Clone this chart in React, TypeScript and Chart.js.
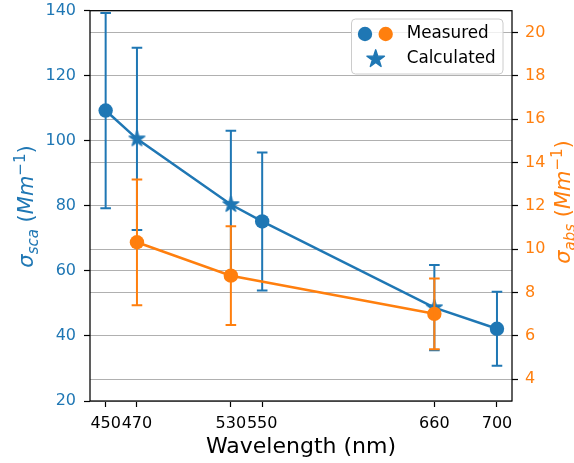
import React, { useEffect, useRef } from "react";
import { Chart, registerables } from "chart.js";

Chart.register(...registerables);

const BLUE = "#1f77b4";
const ORANGE = "#ff7f0e";
const FONT = '"DejaVu Sans"';

// Scattering coefficient (left axis)
const SCA_MEASURED_WL = [450, 550, 700];
const SCA_MEASURED = [109.3, 75.2, 42.2];
const SCA_MEASURED_ERR = [30.0, 21.2, 11.4];
const SCA_CALC_WL = [470, 530, 660];
const SCA_CALC = [100.6, 80.4, 48.7];
const SCA_CALC_ERR = [28.0, 22.7, 13.1];

// Absorption coefficient (right axis)
const ABS_WL = [470, 530, 660];
const ABS = [10.32, 8.78, 7.02];
const ABS_ERR = [2.9, 2.28, 1.63];

const X_TICKS = [450, 470, 530, 550, 660, 700];
const LEFT_TICKS = [20, 40, 60, 80, 100, 120, 140];
const RIGHT_TICKS = [4, 6, 8, 10, 12, 14, 16, 18, 20];

type Seg = { t: string; italic?: boolean; size: number; dy?: number };

function starPath(g: CanvasRenderingContext2D, cx: number, cy: number, R: number) {
  const r = R * 0.381966;
  g.beginPath();
  for (let i = 0; i < 10; i++) {
    const a = -Math.PI / 2 + (i * Math.PI) / 5;
    const rr = i % 2 === 0 ? R : r;
    const px = cx + rr * Math.cos(a);
    const py = cy + rr * Math.sin(a);
    if (i === 0) g.moveTo(px, py);
    else g.lineTo(px, py);
  }
  g.closePath();
}

function fillStar(g: CanvasRenderingContext2D, cx: number, cy: number, R: number, color: string) {
  starPath(g, cx, cy, R);
  g.fillStyle = color;
  g.fill();
  g.strokeStyle = color;
  g.lineWidth = 1.4;
  g.lineJoin = "round";
  g.stroke();
}

function makeStar(R: number, color: string) {
  const size = Math.ceil(R * 2) + 4;
  const c = document.createElement("canvas");
  c.width = size;
  c.height = size;
  const g = c.getContext("2d")!;
  fillStar(g, size / 2, size / 2, R, color);
  return c;
}

function drawSegs(ctx: CanvasRenderingContext2D, segs: Seg[], cx: number, baseY: number) {
  let total = 0;
  const widths = segs.map((s) => {
    ctx.font = `${s.italic ? "italic " : ""}${s.size}px ${FONT}`;
    const w = ctx.measureText(s.t).width;
    total += w;
    return w;
  });
  let x = cx - total / 2;
  ctx.textAlign = "left";
  ctx.textBaseline = "alphabetic";
  segs.forEach((s, i) => {
    ctx.font = `${s.italic ? "italic " : ""}${s.size}px ${FONT}`;
    ctx.fillText(s.t, x, baseY + (s.dy || 0));
    x += widths[i];
  });
}

const toPts = (xs: number[], ys: number[]) => xs.map((x, i) => ({ x, y: ys[i] }));

export default function App() {
  const ref = useRef<HTMLCanvasElement>(null);

  useEffect(() => {
    const canvas = ref.current!;
    const starImg = makeStar(8.2, BLUE);

    const scaLine = [...toPts(SCA_MEASURED_WL, SCA_MEASURED), ...toPts(SCA_CALC_WL, SCA_CALC)].sort(
      (a, b) => a.x - b.x
    );

    const errorBars = {
      id: "errorBars",
      afterDatasetDraw(chart: any, args: any) {
        const ds = chart.data.datasets[args.index];
        if (!ds.errors) return;
        const ctx = chart.ctx;
        const xs = chart.scales.x;
        const ys = chart.scales[ds.yAxisID];
        ctx.save();
        ctx.strokeStyle = ds.errColor;
        ctx.lineWidth = 2;
        ds.data.forEach((p: any, i: number) => {
          const e = ds.errors[i];
          const x = xs.getPixelForValue(p.x);
          const y1 = ys.getPixelForValue(p.y + e);
          const y2 = ys.getPixelForValue(p.y - e);
          ctx.beginPath();
          ctx.moveTo(x, y1);
          ctx.lineTo(x, y2);
          ctx.moveTo(x - 5.3, y1);
          ctx.lineTo(x + 5.3, y1);
          ctx.moveTo(x - 5.3, y2);
          ctx.lineTo(x + 5.3, y2);
          ctx.stroke();
        });
        ctx.restore();
      },
    };

    const decorations = {
      id: "decorations",
      afterDraw(chart: any) {
        const ctx = chart.ctx as CanvasRenderingContext2D;
        const a = chart.chartArea;
        ctx.save();
        // frame
        ctx.strokeStyle = "#000";
        ctx.lineWidth = 1.25;
        ctx.strokeRect(a.left, a.top, a.right - a.left, a.bottom - a.top);

        // x title
        ctx.fillStyle = "#000";
        ctx.font = `22px ${FONT}`;
        ctx.textAlign = "center";
        ctx.textBaseline = "alphabetic";
        ctx.fillText("Wavelength (nm)", (a.left + a.right) / 2, 453);

        // left title
        ctx.save();
        ctx.translate(33, 206.5);
        ctx.rotate(-Math.PI / 2);
        ctx.fillStyle = BLUE;
        drawSegs(
          ctx,
          [
            { t: "σ", italic: true, size: 21 },
            { t: "sca", italic: true, size: 15, dy: 4.5 },
            { t: " (", size: 21 },
            { t: "Mm", italic: true, size: 21 },
            { t: "−1", size: 15, dy: -8.5 },
            { t: ")", size: 21 },
          ],
          0,
          0
        );
        ctx.restore();

        // right title
        ctx.save();
        ctx.translate(570, 202);
        ctx.rotate(-Math.PI / 2);
        ctx.fillStyle = ORANGE;
        drawSegs(
          ctx,
          [
            { t: "σ", italic: true, size: 21 },
            { t: "abs", italic: true, size: 15, dy: 4.5 },
            { t: " (", size: 21 },
            { t: "Mm", italic: true, size: 21 },
            { t: "−1", size: 15, dy: -8.5 },
            { t: ")", size: 21 },
          ],
          0,
          0
        );
        ctx.restore();

        // legend
        const lx = 351.5,
          ly = 19,
          lw = 151.5,
          lh = 55;
        ctx.beginPath();
        if ((ctx as any).roundRect) (ctx as any).roundRect(lx, ly, lw, lh, 4);
        else ctx.rect(lx, ly, lw, lh);
        ctx.fillStyle = "rgba(255,255,255,0.8)";
        ctx.fill();
        ctx.strokeStyle = "#cccccc";
        ctx.lineWidth = 1;
        ctx.stroke();

        ctx.fillStyle = BLUE;
        ctx.beginPath();
        ctx.arc(365, 34, 7.2, 0, Math.PI * 2);
        ctx.fill();
        ctx.fillStyle = ORANGE;
        ctx.beginPath();
        ctx.arc(385.7, 34, 7.2, 0, Math.PI * 2);
        ctx.fill();
        fillStar(ctx, 375.7, 59, 9.2, BLUE);

        ctx.fillStyle = "#000";
        ctx.font = `16.8px ${FONT}`;
        ctx.textAlign = "left";
        ctx.textBaseline = "middle";
        ctx.fillText("Measured", 406.7, 34);
        ctx.fillText("Calculated", 406.7, 58.5);
        ctx.restore();
      },
    };

    const tickFont = { family: FONT, size: 16 };

    const chart = new Chart(canvas, {
      type: "line",
      data: {
        datasets: [
          {
            label: "sca line",
            data: scaLine,
            yAxisID: "ySca",
            borderColor: BLUE,
            borderWidth: 2.5,
            pointRadius: 0,
            tension: 0,
            order: 4,
          },
          {
            label: "Measured sca",
            data: toPts(SCA_MEASURED_WL, SCA_MEASURED),
            yAxisID: "ySca",
            showLine: false,
            pointRadius: 7.2,
            pointBackgroundColor: BLUE,
            pointBorderColor: BLUE,
            pointBorderWidth: 0,
            order: 3,
            errors: SCA_MEASURED_ERR,
            errColor: BLUE,
          } as any,
          {
            label: "Calculated",
            data: toPts(SCA_CALC_WL, SCA_CALC),
            yAxisID: "ySca",
            showLine: false,
            pointRadius: 9,
            pointStyle: starImg,
            order: 2,
            errors: SCA_CALC_ERR,
            errColor: BLUE,
          } as any,
          {
            label: "Measured abs",
            data: toPts(ABS_WL, ABS),
            yAxisID: "yAbs",
            borderColor: ORANGE,
            borderWidth: 2.5,
            tension: 0,
            pointRadius: 7.2,
            pointBackgroundColor: ORANGE,
            pointBorderColor: ORANGE,
            pointBorderWidth: 0,
            order: 1,
            errors: ABS_ERR,
            errColor: ORANGE,
          } as any,
        ],
      },
      options: {
        animation: false,
        responsive: false,
        events: [],
        layout: { padding: { top: 10.7, left: 0, right: 0, bottom: 0 } },
        plugins: { legend: { display: false }, tooltip: { enabled: false } },
        scales: {
          x: {
            type: "linear",
            min: 440,
            max: 709.6,
            afterBuildTicks: (s: any) => {
              s.ticks = X_TICKS.map((v) => ({ value: v }));
            },
            afterFit: (s: any) => {
              s.height = 62;
              s.paddingLeft = 0;
              s.paddingRight = 0;
            },
            ticks: {
              autoSkip: false,
              maxRotation: 0,
              minRotation: 0,
              color: "#000",
              font: tickFont,
              padding: 7,
              callback: (v: any) => String(v),
            },
            grid: { drawOnChartArea: false, tickColor: "#000", tickLength: 6, tickWidth: 1.2 },
            border: { display: false },
          },
          ySca: {
            type: "linear",
            position: "left",
            min: 20,
            max: 140,
            afterBuildTicks: (s: any) => {
              s.ticks = LEFT_TICKS.map((v) => ({ value: v }));
            },
            afterFit: (s: any) => {
              s.width = 90;
              s.paddingTop = 0;
              s.paddingBottom = 0;
            },
            ticks: { color: BLUE, font: tickFont, padding: 8, callback: (v: any) => String(v) },
            grid: { color: "#b0b0b0", lineWidth: 1, tickColor: "#000", tickLength: 6, tickWidth: 1.2 },
            border: { display: false },
          },
          yAbs: {
            type: "linear",
            position: "right",
            min: 3,
            max: 21,
            afterBuildTicks: (s: any) => {
              s.ticks = RIGHT_TICKS.map((v) => ({ value: v }));
            },
            afterFit: (s: any) => {
              s.width = 62;
              s.paddingTop = 0;
              s.paddingBottom = 0;
            },
            ticks: { color: ORANGE, font: tickFont, padding: 7, callback: (v: any) => String(v) },
            grid: { color: "#b0b0b0", lineWidth: 1, tickColor: "#000", tickLength: 6, tickWidth: 1.2 },
            border: { display: false },
          },
        },
      } as any,
      plugins: [errorBars, decorations],
    });

    return () => chart.destroy();
  }, []);

  return (
    <div style={{ position: "absolute", left: 0, top: 0, width: 574, height: 463, background: "#fff" }}>
      <canvas ref={ref} width={574} height={463} style={{ display: "block", width: 574, height: 463 }} />
    </div>
  );
}
